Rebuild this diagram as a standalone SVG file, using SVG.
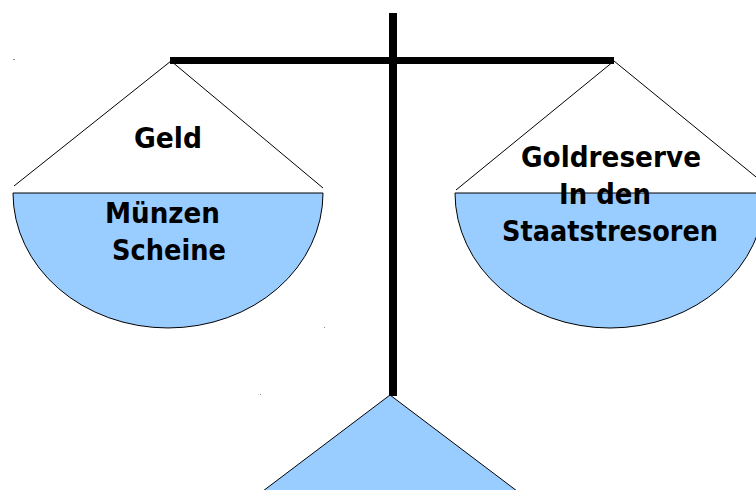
<svg xmlns="http://www.w3.org/2000/svg" width="756" height="490" viewBox="0 0 756 490">
  <style>
    .cord { fill: none; stroke: #000; stroke-width: 1; }
    .pan { fill: #99ccff; stroke: #000; stroke-width: 1; }
    .bar { fill: #000; }
    .lbl { font-family: "DejaVu Sans", "Liberation Sans", sans-serif; font-weight: bold; font-size: 29px; fill: #000; text-anchor: middle; }
    .dot { fill: #888; }
  </style>
  <rect width="756" height="490" fill="#fff"/>
  <g id="connectors">
    <polyline class="cord" points="14,186 171,61 323,188"/>
    <polyline class="cord" points="456,190 614,61 772,190"/>
  </g>
  <g id="left-pan">
    <path class="pan" d="M13,193 A155,135 0 0 0 323,193 Z"/>
    <text class="lbl" x="168" y="148" textLength="68" lengthAdjust="spacingAndGlyphs">Geld</text>
    <text class="lbl" x="162.5" y="223" textLength="115" lengthAdjust="spacingAndGlyphs">Münzen</text>
    <text class="lbl" x="169" y="260" textLength="114" lengthAdjust="spacingAndGlyphs">Scheine</text>
  </g>
  <g id="right-pan">
    <path class="pan" d="M455,193 A155,135 0 0 0 765,193 Z"/>
    <text class="lbl" x="611" y="167" textLength="180" lengthAdjust="spacingAndGlyphs">Goldreserve</text>
    <text class="lbl" x="605" y="204" textLength="92" lengthAdjust="spacingAndGlyphs">In den</text>
    <text class="lbl" x="610" y="241" textLength="216" lengthAdjust="spacingAndGlyphs">Staatstresoren</text>
  </g>
  <g id="base">
    <polygon class="pan" points="390,395 263,491 517,491"/>
  </g>
  <g id="beam">
    <rect class="bar" x="170" y="57" width="444" height="7"/>
  </g>
  <g id="post">
    <rect class="bar" x="389" y="13" width="8" height="383"/>
  </g>
  <rect class="dot" x="13" y="59" width="2" height="1"/>
  <rect class="dot" x="324" y="327" width="1" height="1"/>
  <rect class="dot" x="260" y="394" width="1" height="1"/>
</svg>
